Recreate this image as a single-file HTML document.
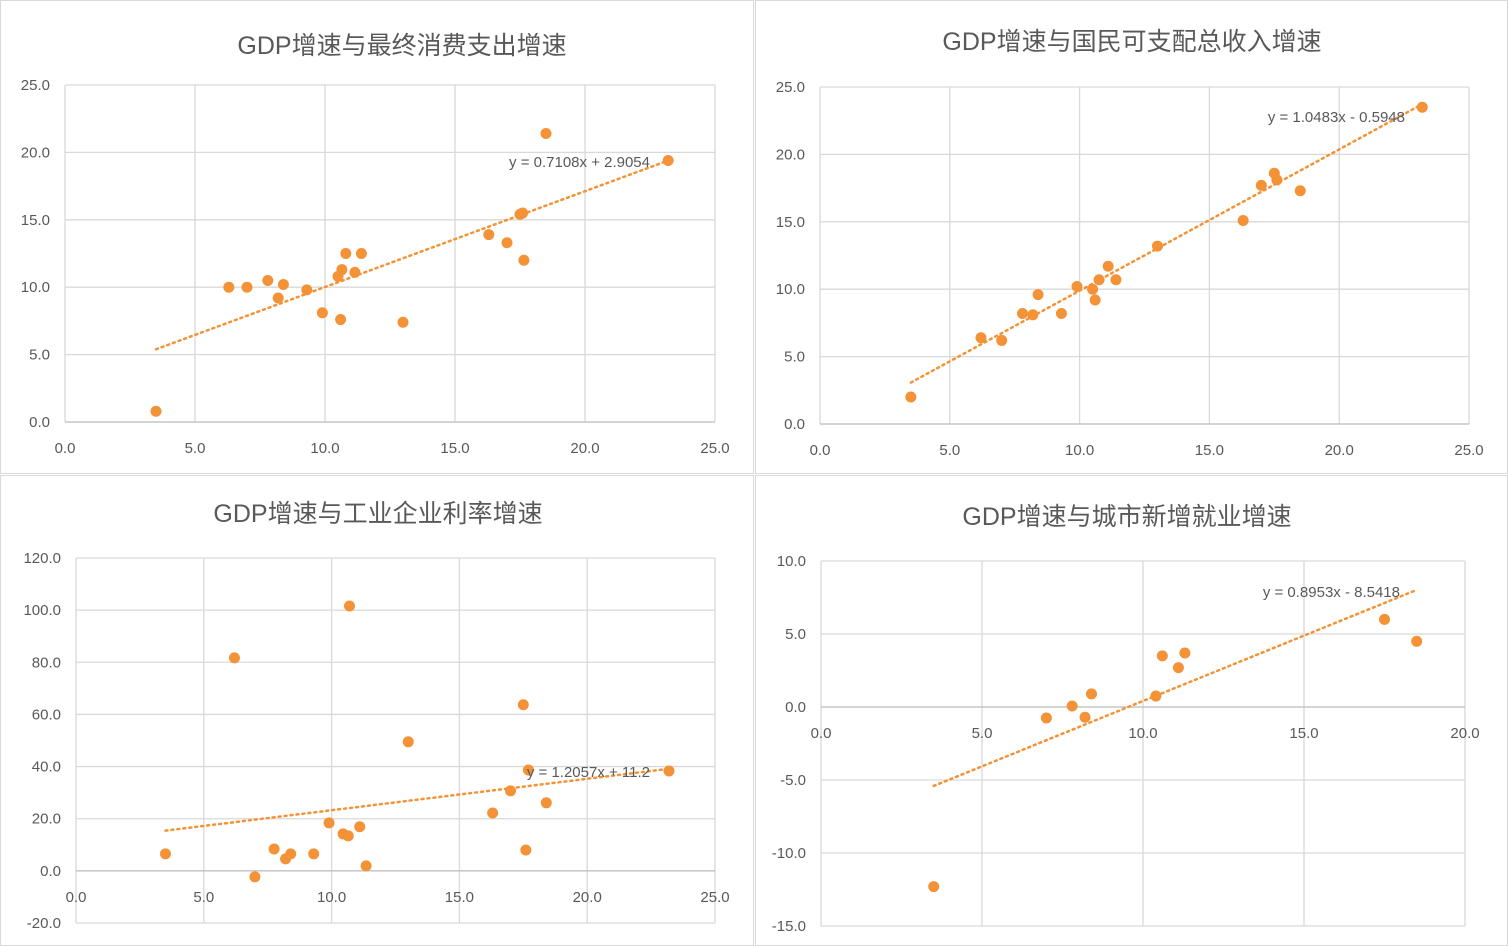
<!DOCTYPE html>
<html><head><meta charset="utf-8">
<style>
body{margin:0;background:#fff;}
svg{display:block;font-family:"Liberation Sans","Noto Sans CJK SC",sans-serif;}
</style></head>
<body>
<svg id="root" width="1508" height="946" xmlns="http://www.w3.org/2000/svg">
<rect x="0" y="0" width="1508" height="946" fill="#fff"/>
<rect x="0.5" y="0.5" width="753" height="473" fill="none" stroke="#d9d9d9"/>
<rect x="755.5" y="0.5" width="752" height="473" fill="none" stroke="#d9d9d9"/>
<rect x="0.5" y="475.5" width="753" height="470" fill="none" stroke="#d9d9d9"/>
<rect x="755.5" y="475.5" width="752" height="470" fill="none" stroke="#d9d9d9"/>
</svg>
<script>
const gdp1 = [3.5,6.3,7.0,7.8,8.4,8.2,9.3,9.9,10.6,10.5,10.65,10.8,11.4,11.15,13.0,16.3,17.0,17.5,17.6,17.65,18.5,23.2];
const cons1 = [0.8,10.0,10.0,10.5,10.2,9.2,9.8,8.1,7.6,10.8,11.3,12.5,12.5,11.1,7.4,13.9,13.3,15.4,15.5,12.0,21.4,19.4];
const gdp2 = [3.5,6.2,7.0,7.8,8.2,8.4,9.3,9.9,10.5,10.6,10.75,11.1,11.4,13.0,16.3,17.0,17.5,17.6,18.5,23.2];
const inc2 = [2.0,6.4,6.2,8.2,8.1,9.6,8.2,10.2,10.0,9.2,10.7,11.7,10.7,13.2,15.1,17.7,18.6,18.1,17.3,23.5];
const gdp3 = [3.5,6.2,7.0,7.75,8.2,8.4,9.3,9.9,10.45,10.65,10.7,11.1,11.35,13.0,16.3,17.0,17.5,17.7,17.6,18.4,23.2];
const prof3 = [6.5,81.7,-2.3,8.4,4.6,6.5,6.5,18.4,14.2,13.4,101.6,16.9,1.9,49.5,22.2,30.7,63.7,38.7,8.0,26.1,38.3];
const gdp4 = [3.5,7.0,7.8,8.2,8.4,10.4,10.6,11.1,11.3,17.5,18.5];
const emp4 = [-12.3,-0.75,0.07,-0.7,0.9,0.75,3.5,2.7,3.7,6.0,4.5];
const xTicks1 = [0,5,10,15,20,25];
const yTicks1 = [0,5,10,15,20,25];
const yTicks3 = [-20,0,20,40,60,80,100,120];
const xTicks4 = [0,5,10,15,20];
const yTicks4 = [-15,-10,-5,0,5,10];
const slopes = [0.7108,1.0483,1.2057,0.8953];
const intercepts = [2.9054,-0.5948,11.2,-8.5418];
const eqLabels = ["y = 0.7108x + 2.9054","y = 1.0483x - 0.5948","y = 1.2057x + 11.2","y = 0.8953x - 8.5418"];
const titles = ["GDP增速与最终消费支出增速","GDP增速与国民可支配总收入增速","GDP增速与工业企业利率增速","GDP增速与城市新增就业增速"];

const NS="http://www.w3.org/2000/svg";
const root=document.getElementById('root');
function mk(tag,attrs,parent){const e=document.createElementNS(NS,tag);for(const k in attrs)e.setAttribute(k,attrs[k]);(parent||root).appendChild(e);return e;}

const cfgs=[
 {xs:gdp1,ys:cons1,l:65,r:715,t:85,b:422,xmin:0,xmax:25,ymin:0,ymax:25,xt:xTicks1,yt:yTicks1,tx:402,ty:54,ex:650,ey:167,key:'consumption'},
 {xs:gdp2,ys:inc2,l:820,r:1469,t:87,b:424,xmin:0,xmax:25,ymin:0,ymax:25,xt:xTicks1,yt:yTicks1,tx:1132,ty:50,ex:1405,ey:122,key:'income'},
 {xs:gdp3,ys:prof3,l:76,r:715,t:558,b:923,xmin:0,xmax:25,ymin:-20,ymax:120,xt:xTicks1,yt:yTicks3,tx:378,ty:522,ex:650,ey:777,key:'profit'},
 {xs:gdp4,ys:emp4,l:821,r:1465,t:561,b:926,xmin:0,xmax:20,ymin:-15,ymax:10,xt:xTicks4,yt:yTicks4,tx:1127,ty:525,ex:1400,ey:597,key:'employment'}
];
cfgs.forEach((c,i)=>{
 const g=mk('g',{});
 
 
 const X=v=>c.l+(v-c.xmin)/(c.xmax-c.xmin)*(c.r-c.l);
 const Y=v=>c.b-(v-c.ymin)/(c.ymax-c.ymin)*(c.b-c.t);
 const t=mk('text',{x:c.tx,y:c.ty,'text-anchor':'middle','font-size':25,fill:'#595959'},g);
 t.textContent=titles[i];
 
 
 c.yt.forEach(v=>{
  const ln=mk('line',{x1:c.l,x2:c.r,y1:Y(v),y2:Y(v),stroke:'#d9d9d9','stroke-width':1.3},g);
  
  
  const tt=mk('text',{x:c.l-15,y:Y(v)+5,'text-anchor':'end','font-size':15,fill:'#595959'},g);
  tt.textContent=v.toFixed(1);
  
  
 });
 const y0=(c.ymin<0)?Y(0):c.b;
 c.xt.forEach(v=>{
  const ln=mk('line',{x1:X(v),x2:X(v),y1:c.t,y2:c.b,stroke:'#d9d9d9','stroke-width':1.3},g);
  
  
  const tt=mk('text',{x:X(v),y:y0+31,'text-anchor':'middle','font-size':15,fill:'#595959'},g);
  tt.textContent=v.toFixed(1);
  
  
 });
 const ax=mk('line',{x1:c.l,x2:c.r,y1:y0,y2:y0,stroke:'#bfbfbf','stroke-width':1.3},g);
 
 
 const xmn=Math.min(...c.xs),xmx=Math.max(...c.xs);
 const tr=mk('line',{x1:X(xmn),y1:Y(slopes[i]*xmn+intercepts[i]),x2:X(xmx),y2:Y(slopes[i]*xmx+intercepts[i]),stroke:'#f39236','stroke-width':2.5,'stroke-dasharray':'2 4','stroke-linecap':'round'},g);
 
 
 c.xs.forEach((xv,j)=>{
  const d=mk('circle',{cx:X(xv),cy:Y(c.ys[j]),r:5.5,fill:'#f39236'},g);
  
  
 });
 const e=mk('text',{x:c.ex,y:c.ey,'text-anchor':'end','font-size':15,fill:'#595959'},g);
 e.textContent=eqLabels[i];
 
 
});
</script>
</body></html>
